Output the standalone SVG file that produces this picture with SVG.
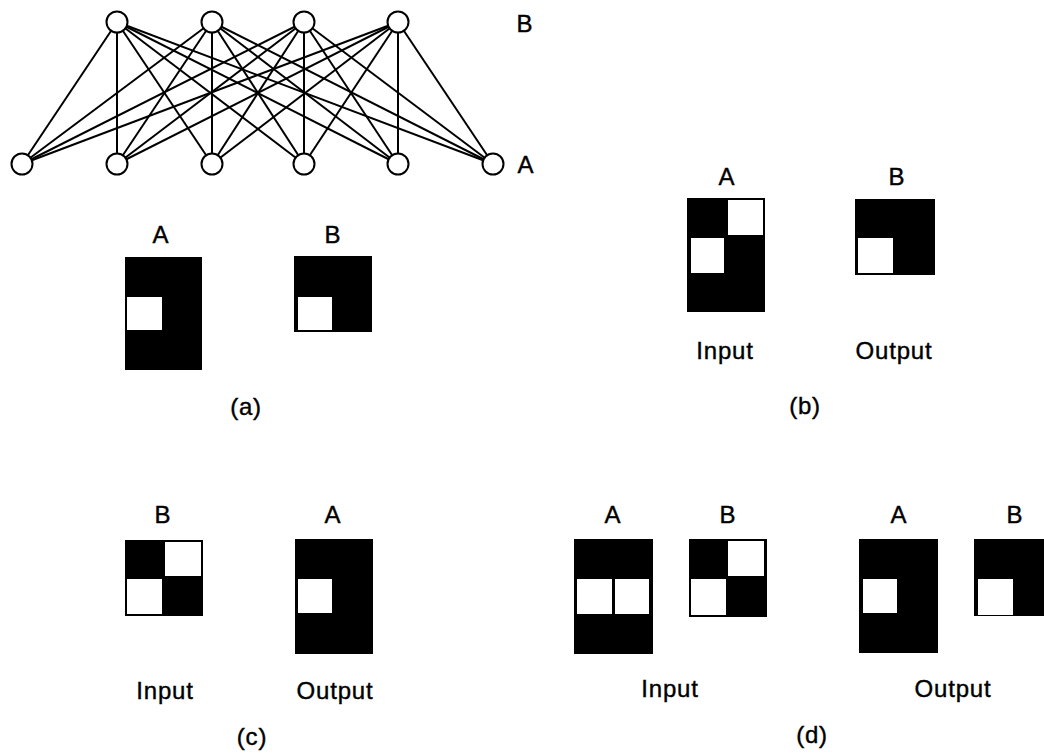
<svg xmlns="http://www.w3.org/2000/svg" width="1044" height="754" viewBox="0 0 1044 754">
<style>
.bg{fill:#fff}
.edge{stroke:#000;stroke-width:2;fill:none}
.node{fill:#fff;stroke:#000;stroke-width:2}
.blk{fill:#000}
.wht{fill:#fff}
text{font-family:"Liberation Sans",Arial,sans-serif;font-size:24px;letter-spacing:0.8px;fill:#000;stroke:#000;stroke-width:0.4;text-anchor:middle}
</style>
<rect class="bg" x="0" y="0" width="1044" height="754"/>
<g id="connectors">
<line class="edge" x1="117" y1="22" x2="22" y2="164"/><line class="edge" x1="117" y1="22" x2="117" y2="164"/><line class="edge" x1="117" y1="22" x2="212" y2="164"/><line class="edge" x1="117" y1="22" x2="304" y2="164"/><line class="edge" x1="117" y1="22" x2="398" y2="164"/><line class="edge" x1="117" y1="22" x2="493" y2="164"/>
<line class="edge" x1="212" y1="22" x2="22" y2="164"/><line class="edge" x1="212" y1="22" x2="117" y2="164"/><line class="edge" x1="212" y1="22" x2="212" y2="164"/><line class="edge" x1="212" y1="22" x2="304" y2="164"/><line class="edge" x1="212" y1="22" x2="398" y2="164"/><line class="edge" x1="212" y1="22" x2="493" y2="164"/>
<line class="edge" x1="304" y1="22" x2="22" y2="164"/><line class="edge" x1="304" y1="22" x2="117" y2="164"/><line class="edge" x1="304" y1="22" x2="212" y2="164"/><line class="edge" x1="304" y1="22" x2="304" y2="164"/><line class="edge" x1="304" y1="22" x2="398" y2="164"/><line class="edge" x1="304" y1="22" x2="493" y2="164"/>
<line class="edge" x1="398" y1="22" x2="22" y2="164"/><line class="edge" x1="398" y1="22" x2="117" y2="164"/><line class="edge" x1="398" y1="22" x2="212" y2="164"/><line class="edge" x1="398" y1="22" x2="304" y2="164"/><line class="edge" x1="398" y1="22" x2="398" y2="164"/><line class="edge" x1="398" y1="22" x2="493" y2="164"/>
</g>
<g id="nodes-B">
<circle id="b1" class="node" cx="117" cy="22" r="10.5"/>
<circle id="b2" class="node" cx="212" cy="22" r="10.5"/>
<circle id="b3" class="node" cx="304" cy="22" r="10.5"/>
<circle id="b4" class="node" cx="398" cy="22" r="10.5"/>
<text x="525" y="32">B</text>
</g>
<g id="nodes-A">
<circle id="a1" class="node" cx="22" cy="164" r="10.5"/>
<circle id="a2" class="node" cx="117" cy="164" r="10.5"/>
<circle id="a3" class="node" cx="212" cy="164" r="10.5"/>
<circle id="a4" class="node" cx="304" cy="164" r="10.5"/>
<circle id="a5" class="node" cx="398" cy="164" r="10.5"/>
<circle id="a6" class="node" cx="493" cy="164" r="10.5"/>
<text x="526" y="173">A</text>
</g>
<g id="panel-a">
<text x="161" y="243">A</text>
<rect class="blk" x="125" y="257" width="77" height="113"/>
<rect class="wht" x="127" y="297" width="35" height="33"/>
<text x="333" y="243">B</text>
<rect class="blk" x="294" y="256" width="78" height="76"/>
<rect class="wht" x="298" y="297" width="34" height="33"/>
<text x="246" y="415">(a)</text>
</g>
<g id="panel-b">
<text x="727" y="185">A</text>
<rect class="blk" x="687" y="198" width="78" height="114"/>
<rect class="wht" x="728" y="200" width="35" height="35"/>
<rect class="wht" x="691" y="238" width="33" height="35"/>
<text x="897" y="185">B</text>
<rect class="blk" x="855" y="199" width="80" height="76"/>
<rect class="wht" x="858" y="238" width="35" height="35"/>
<text x="725" y="359">Input</text>
<text x="894" y="359">Output</text>
<text x="805" y="414">(b)</text>
</g>
<g id="panel-c">
<text x="163" y="523">B</text>
<rect class="blk" x="125" y="540" width="78" height="76"/>
<rect class="wht" x="165" y="542" width="36" height="34"/>
<rect class="wht" x="127" y="579" width="35" height="35"/>
<text x="333" y="523">A</text>
<rect class="blk" x="295" y="539" width="78" height="115"/>
<rect class="wht" x="298" y="579" width="34" height="34"/>
<text x="165" y="699">Input</text>
<text x="335" y="699">Output</text>
<text x="252" y="745">(c)</text>
</g>
<g id="panel-d">
<text x="613" y="523">A</text>
<rect class="blk" x="574" y="539" width="79" height="115"/>
<rect class="wht" x="577" y="579" width="35" height="35"/>
<rect class="wht" x="615" y="579" width="34" height="35"/>
<text x="728" y="523">B</text>
<rect class="blk" x="689" y="539" width="78" height="78"/>
<rect class="wht" x="728" y="541" width="36" height="35"/>
<rect class="wht" x="691" y="579" width="35" height="36"/>
<text x="899" y="523">A</text>
<rect class="blk" x="859" y="539" width="79" height="114"/>
<rect class="wht" x="863" y="579" width="34" height="34"/>
<text x="1015" y="523">B</text>
<rect class="blk" x="974" y="539" width="80" height="77"/>
<rect class="wht" x="978" y="579" width="35" height="36"/>
<text x="670" y="697">Input</text>
<text x="953" y="697">Output</text>
<text x="812" y="743">(d)</text>
</g>
</svg>
